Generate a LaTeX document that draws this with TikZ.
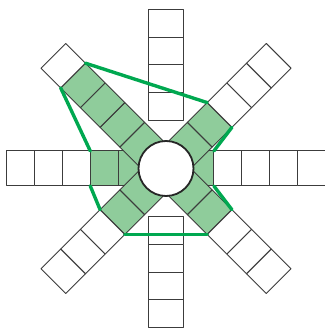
\documentclass[tikz,border=0pt]{standalone}
\definecolor{cellgreen}{RGB}{143,204,155}
\definecolor{linegreen}{RGB}{0,168,80}
\definecolor{cellline}{RGB}{60,60,60}
\tikzset{
  cellbox/.style={draw=cellline,line width=1pt,line join=round},
  hull/.style={draw=linegreen,line width=3.4pt,line cap=round},
  hub/.style={draw=black!85,line width=1.8pt,fill=white}
}
% #1 angle, #2 name, #3 first cell index, #4 number of green cells
\newcommand{\armcells}[4]{%
  \begin{scope}[shift={(166,160.5)},rotate=#1]
    \foreach \k in {#3,...,4} {
      \pgfmathsetmacro{\ra}{20+\k*27.86}
      \pgfmathsetmacro{\rb}{20+(\k+1)*27.86}
      \pgfmathtruncatemacro{\isg}{\k<#4 ? 1 : 0}
      \ifnum\isg=1 \def\fc{cellgreen}\else\def\fc{white}\fi
      \path[cellbox,fill=\fc] (\ra,-17.5) -- (\rb,-17.5) -- (\rb,17.5) -- (\ra,17.5) -- cycle;
    }
    \foreach \k in {0,...,5} {
      \pgfmathsetmacro{\ra}{20+\k*27.86}
      \coordinate (#2-\k-a) at (\ra,17.5);
      \coordinate (#2-\k-b) at (\ra,-17.5);
    }
  \end{scope}}
\begin{document}
\begin{tikzpicture}[x=1pt,y=1pt]
\useasboundingbox (0,0) rectangle (324,329);
\coordinate (c) at (166,160.5);
% horizontal and vertical arms
\armcells{90}{v90}{1}{0}
\armcells{270}{v270}{1}{0}
\armcells{0}{h0}{0}{1}
\armcells{180}{h180}{0}{2}
% diagonal arms
\armcells{45}{d45}{0}{2}
\armcells{135}{d135}{0}{4}
\armcells{225}{d225}{0}{2}
\armcells{315}{d315}{0}{2}
% hub
\path[hub] (c) circle (27.5pt);
% green outline
\draw[hull] (d135-4-b) -- (d45-2-a);
\draw[hull] (d45-2-b) -- (h0-1-a);
\draw[hull] (h0-1-b) -- (d315-2-a);
\draw[hull] (d315-2-b) -- (d225-2-a);
\draw[hull] (d225-2-b) -- (h180-2-a);
\draw[hull] (h180-2-b) -- (d135-4-a);
\end{tikzpicture}
\end{document}
